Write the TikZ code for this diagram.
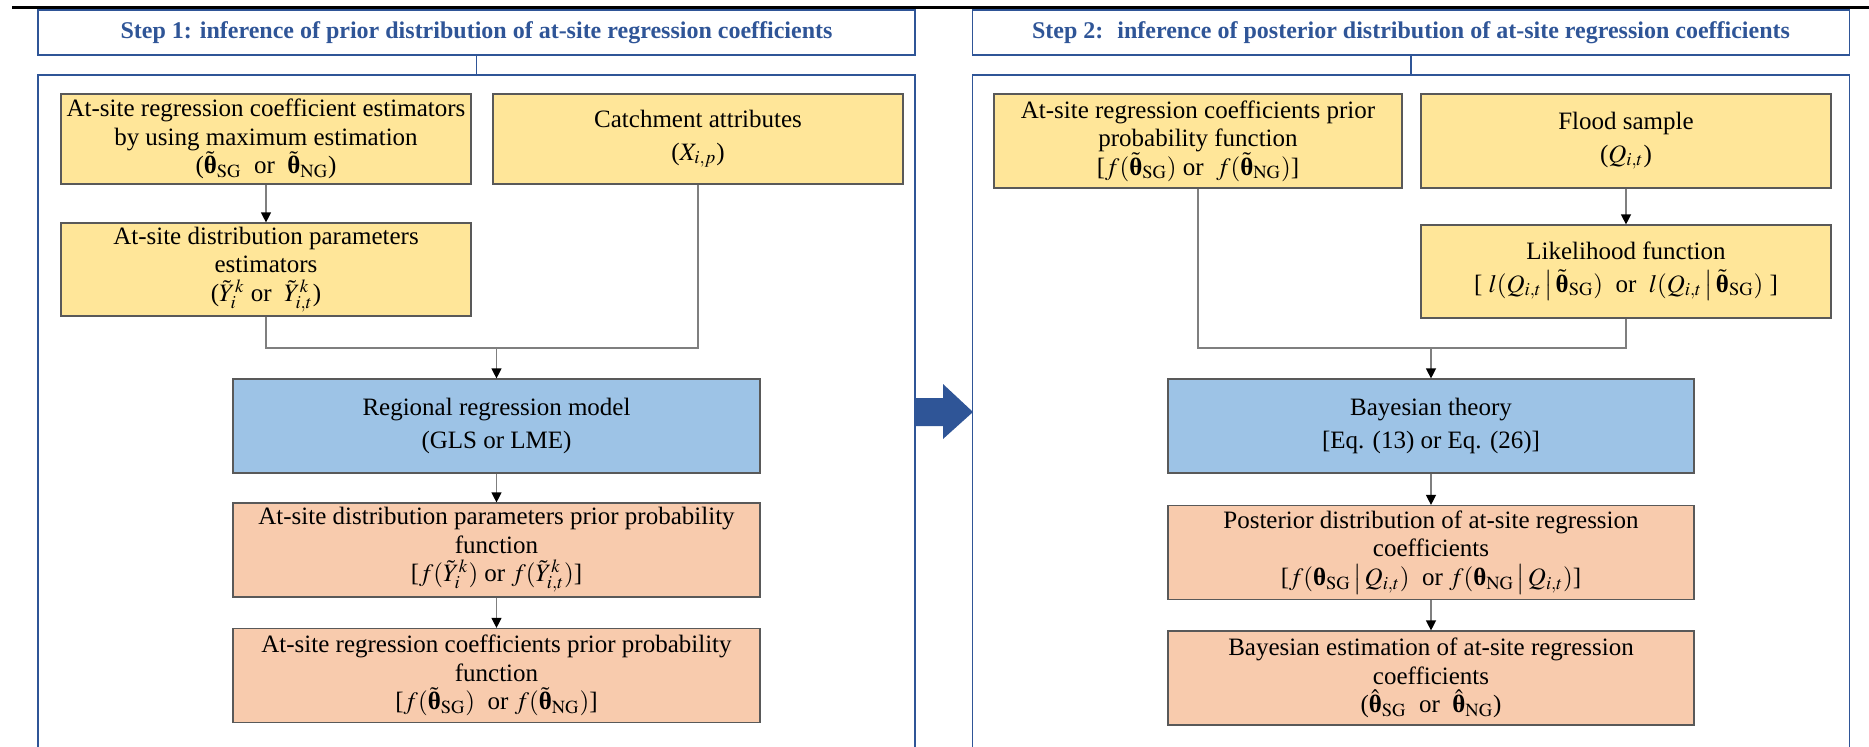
\documentclass[tikz,border=0pt]{standalone}
\usepackage{mathptmx}
\usepackage{fontspec}
\setmainfont{Liberation Serif}
\usetikzlibrary{arrows.meta}
\definecolor{stepblue}{HTML}{2F5597}
\definecolor{inyellow}{HTML}{FFE699}
\definecolor{outorange}{HTML}{F8CBAD}
\definecolor{modblue}{HTML}{9DC3E6}
\definecolor{boxline}{HTML}{595959}
\definecolor{linegray}{HTML}{7F7F7F}
\newcommand{\bth}{\mbox{\bfseries θ}}
\newcommand{\tth}{\tilde{\bth}}
\newcommand{\sub}[1]{_{\mathrm{#1}}}
\begin{document}
\begin{tikzpicture}%
	[x=0.5pt, y=-0.5pt,
	head/.style={draw=stepblue, line width=0.8pt, minimum width=438.5pt, minimum height=22.5pt, inner sep=0pt, text=stepblue, font=\fontsize{12}{14}\selectfont\bfseries},
	frame/.style={draw=stepblue, line width=0.8pt, minimum width=438.5pt, minimum height=342.5pt, inner sep=0pt},
	box/.style={draw=boxline, line width=0.6pt, inner sep=0pt, align=center, font=\fontsize{12.5}{14.2}\selectfont},
	inbox/.style={box, fill=inyellow, minimum width=205pt, minimum height=45pt},
	modbox/.style={box, fill=modblue, minimum width=263.5pt, minimum height=47pt},
	outbox/.style={box, fill=outorange, minimum width=263.5pt, minimum height=47pt},
	link/.style={draw=linegray, line width=0.6pt},
	flow/.style={link, -{Triangle[length=5pt, width=5pt, color=black]}},
	link2/.style={draw=stepblue, line width=0.8pt}]
%
\useasboundingbox (0,0) rectangle (1869,746);
\clip (0,0) rectangle (1869,746);
%
%% Rule at the top of the page
\draw[line width=1.5pt] (12,7) -- (1869,7);
%
%% Coordinates of the joints
%%
\coordinate (m1) at (496.5,348);
\coordinate (m2) at (1431,348);
%%
%%
%% Step 1
%%
\node[head] (head1) at (476.5,32.5) {Step 1: inference of prior distribution of at-site regression coefficients};
\node[frame] (frame1) at (476.5,417.5) {};
\node[inbox] (estim) at (266,139) {At-site regression coefficient estimators\\ by using maximum estimation\\ ($\tth\sub{SG}$ \ or \ $\tth\sub{NG}$)};
\node[inbox] (catch) at (698,139) {Catchment attributes\\[2pt] ($X_{i,p}$)};
\node[inbox, minimum height=46.5pt] (param) at (266,269.5) {At-site distribution parameters\\ estimators\\ ($\tilde{Y}_i^k$ or \ $\tilde{Y}_{i,t}^k$)};
\node[modbox] (regmod) at (496.5,426) {Regional regression model\\[2pt] (GLS or LME)};
\node[outbox] (parprior) at (496.5,550) {At-site distribution parameters prior probability\\ function\\ {[}$f(\tilde{Y}_i^k)$ or $f(\tilde{Y}_{i,t}^k)${]}};
\node[outbox] (coefprior) at (496.5,675.5) {At-site regression coefficients prior probability\\ function\\ {[}$f(\tth\sub{SG})$ \ or $f(\tth\sub{NG})${]}};
%%
%%
%% Step 2
%%
\node[head] (head2) at (1411,32.5) {Step 2: \ inference of posterior distribution of at-site regression coefficients};
\node[frame] (frame2) at (1411,417.5) {};
\node[inbox, minimum width=204pt, minimum height=47pt] (prior2) at (1198,141) {At-site regression coefficients prior\\ probability function\\ {[}$f(\tth\sub{SG})$ or \ $f(\tth\sub{NG})${]}};
\node[inbox, minimum height=47pt] (flood) at (1626,141) {Flood sample\\[2pt] ($Q_{i,t}$)};
\node[inbox, minimum height=46.5pt] (likel) at (1626,271.5) {Likelihood function\\[2pt] {[} $l(Q_{i,t}\,\big|\,\tth\sub{SG})$ \ or \ $l(Q_{i,t}\,\big|\,\tth\sub{SG})$ {]}};
\node[modbox, minimum width=263pt] (bayes) at (1431,426) {Bayesian theory\\[2pt] {[}Eq. (13) or Eq. (26){]}};
\node[outbox, minimum width=263pt] (post) at (1431,552.5) {Posterior distribution of at-site regression\\ coefficients\\ {[}$f(\bth\sub{SG}\,\big|\,Q_{i,t})$ \ or $f(\bth\sub{NG}\,\big|\,Q_{i,t})${]}};
\node[outbox, minimum width=263pt] (bayesest) at (1431,678) {Bayesian estimation of at-site regression\\ coefficients\\ ($\hat{\bth}\sub{SG}$ \ or \ $\hat{\bth}\sub{NG}$)};
%%
%%
%% Links in step 1
%%
\draw[link2] (head1) -- (frame1.north);
\draw[flow] (estim) -- (param);
\draw[link] (param.south) |- (m1);
\draw[link] (catch.south) |- (m1);
\draw[flow] (m1) -- (regmod.north);
\draw[flow] (regmod) -- (parprior);
\draw[flow] (parprior) -- (coefprior);
%%
%%
%% Links in step 2
%%
\draw[link2] (head2) -- (frame2.north);
\draw[flow] (flood) -- (likel);
\draw[link] (prior2.south) |- (m2);
\draw[link] (likel.south) |- (m2);
\draw[flow] (m2) -- (bayes.north);
\draw[flow] (bayes) -- (post);
\draw[flow] (post) -- (bayesest);
%%
%%
%% From step 1 to step 2
%%
\fill[stepblue] (914,398) -- (943,398) -- (943,384) -- (973,412) -- (943,439) -- (943,426) -- (914,426) -- cycle;
%%
%%
\end{tikzpicture}
\end{document}
